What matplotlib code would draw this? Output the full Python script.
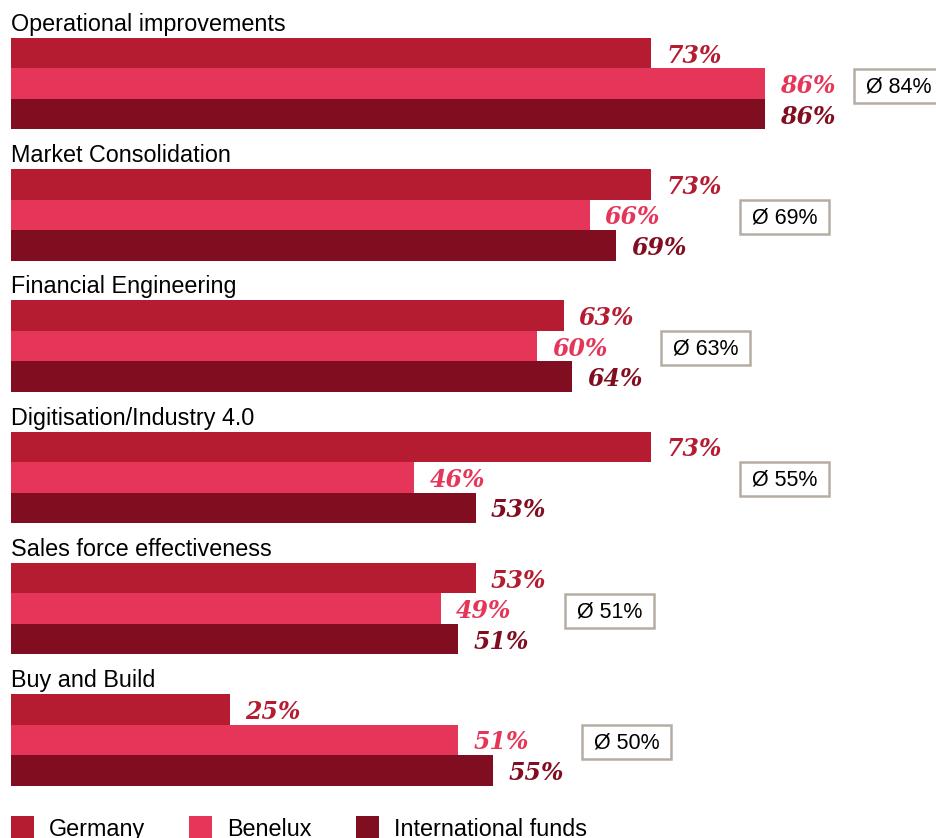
import matplotlib
matplotlib.use("Agg")
import matplotlib.pyplot as plt
from matplotlib.patches import Rectangle

categories = ["Operational improvements", "Market Consolidation", "Financial Engineering",
              "Digitisation/Industry 4.0", "Sales force effectiveness", "Buy and Build"]
germany = [73, 73, 63, 73, 53, 25]
benelux = [86, 66, 60, 46, 49, 51]
intl = [86, 69, 64, 53, 51, 55]
averages = [84, 69, 63, 55, 51, 50]
series_names = ["Germany", "Benelux", "International funds"]
colors = ["#B51C32", "#E5365A", "#810E20"]

W, H = 936, 838
fig = plt.figure(figsize=(W / 100, H / 100), dpi=100)
ax = fig.add_axes([0, 0, 1, 1])
ppu = 8.77  # pixels per percent
x0 = 11
ax.set_xlim(-x0 / ppu, (W - x0) / ppu)
ax.set_ylim(H, 0)
ax.axis("off")

bar_h = 30.5
for g, cat in enumerate(categories):
    top = 38 + g * 131.2
    ax.text(0, top - 7, cat, fontsize=16.8, family="Liberation Sans", va="baseline", ha="left")
    vals = [germany[g], benelux[g], intl[g]]
    for k, (v, c) in enumerate(zip(vals, colors)):
        yc = top + bar_h * k + bar_h / 2
        ax.barh(yc, v, height=bar_h, color=c, left=0, linewidth=0)
        ax.text(v + 15 / ppu, yc + 2.5, f"{v}%", fontsize=17, family="DejaVu Serif",
                fontweight="bold", style="italic", color=c, va="center", ha="left")
    ymid = top + bar_h * 1.5 + 2
    bx = max(vals) + 89 / ppu
    ax.add_patch(Rectangle((bx, ymid - 17), 89 / ppu, 34, fc="white", ec="#B5ADA3", lw=1.8))
    ax.text(bx + 44.5 / ppu, ymid + 1, f"Ø {averages[g]}%", fontsize=15.5,
            family="Liberation Sans", va="center", ha="center")

# legend
leg_x = [11, 189, 356]
for x, name, c in zip(leg_x, series_names, colors):
    ax.add_patch(Rectangle(((x - x0) / ppu, 816), 23 / ppu, 24, color=c, lw=0))
    ax.text((x - x0 + 38) / ppu, 836, name, fontsize=16.8, family="Liberation Sans",
            va="baseline", ha="left")

fig.savefig("out.png", dpi=100)
